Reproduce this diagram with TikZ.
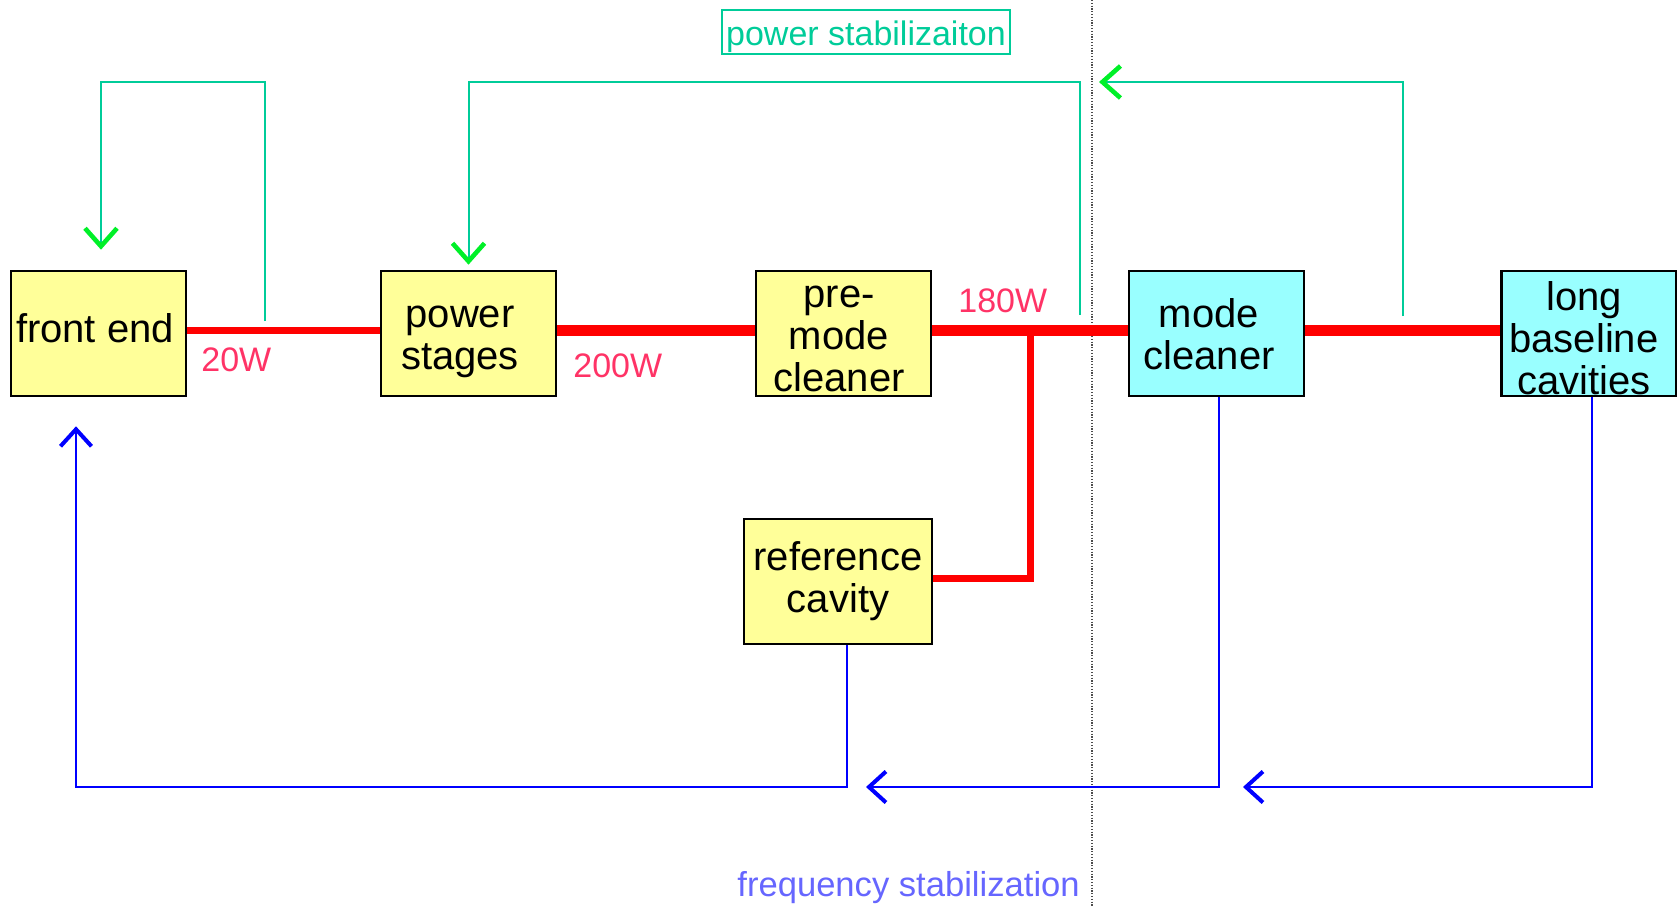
\documentclass[tikz,border=0pt]{standalone}
\usepackage{fontspec}
\setmainfont{Liberation Sans}
\usetikzlibrary{arrows.meta}
\definecolor{boxyellow}{RGB}{255,255,153}
\definecolor{boxcyan}{RGB}{153,255,255}
\definecolor{loopgreen}{RGB}{0,204,153}
\definecolor{tipgreen}{RGB}{0,240,40}
\definecolor{powerred}{RGB}{255,0,0}
\definecolor{labelred}{RGB}{255,51,102}
\definecolor{freqblue}{RGB}{0,0,255}
\definecolor{freqtext}{RGB}{102,102,255}

\begin{document}
\begin{tikzpicture}[x=0.5pt,y=-0.5pt,
  box/.style={draw=black, line width=1.3pt, minimum width=87.5pt, minimum height=62.5pt, inner sep=0pt},
  boxtext/.style={font=\fontsize{20}{21}\selectfont, align=center, inner sep=0pt},
  watt/.style={font=\fontsize{17}{20}\selectfont, text=labelred, inner sep=0pt, anchor=base west},
  beam/.style={draw=powerred, line width=5.5pt},
  thinbeam/.style={draw=powerred, line width=3.5pt},
  pwrloop/.style={draw=loopgreen, line width=1pt, -{Straight Barb[length=9pt,width=16pt,line width=2.3pt,color=tipgreen]}},
  freqloop/.style={draw=freqblue, line width=1.2pt, -{Straight Barb[length=8.5pt,width=15.5pt,line width=2pt]}},
  divider/.style={draw=black!70, line width=0.6pt, dash pattern=on 0.6pt off 0.8pt},
]
\useasboundingbox (0,0) rectangle (1677,906);

% boxes of the laser chain
\node[box, fill=boxyellow] (fe) at (98.5,333.5) {};
\node[box, fill=boxyellow] (ps) at (468.5,333.5) {};
\node[box, fill=boxyellow] (pmc) at (843.5,333.5) {};
\node[box, fill=boxcyan] (mc) at (1216.5,333.5) {};
\node[box, fill=boxcyan] (lb) at (1589,333.5) {};
\node[box, fill=boxyellow, minimum width=94pt] (rc) at (838,581.5) {};

% box captions
\node[boxtext] (fe-t) at (95,328) {front end};
\node[boxtext] (ps-t) at (460,341.5) {power\\stages};
\node[boxtext] (pmc-t) at (839,339) {pre-\\mode\\cleaner};
\node[boxtext] (mc-t) at (1209,334) {mode\\cleaner};
\node[boxtext] (lb-t) at (1584,338) {long\\baseline\\cavities};
\node[boxtext] (rc-t) at (838,581) {reference\\cavity};

% dividing line
\coordinate (div-top) at (1092,0);
\coordinate (div-bot) at (1092,906);
\draw[divider] (div-top) -- (div-bot);

% laser beam
\draw[thinbeam] ([yshift=1.75pt]fe.east) -- ([yshift=1.75pt]ps.west);
\draw[beam] ([yshift=1.75pt]ps.east) -- ([yshift=1.75pt]pmc.west);
\draw[beam] ([yshift=1.75pt]pmc.east) -- ([yshift=1.75pt]mc.west);
\draw[beam] ([yshift=1.75pt]mc.east) -- ([yshift=1.75pt]lb.west);
\coordinate (split) at (1030,330);
\draw[thinbeam] (split) |- ([yshift=1.75pt]rc.east);

% power labels
\node[watt] (w20) at (201,371) {20W};
\node[watt] (w200) at (573,377) {200W};
\node[watt] (w180) at (958,312) {180W};

% power stabilization loops
\coordinate (ptop) at (0,82);
\coordinate (tap1) at (265,321);
\coordinate (tap2) at (1080,315);
\coordinate (tap3) at (1403,316);
\coordinate (fe-in) at ([xshift=1.25pt,yshift=10pt]fe.north);
\coordinate (ps-in) at ([yshift=2.5pt]ps.north);
\coordinate (mc-in) at (1099,82);
\draw[pwrloop] (tap1) |- (ptop -| fe-in) -- (fe-in);
\draw[pwrloop] (tap2) |- (ptop -| ps-in) -- (ps-in);
\draw[pwrloop] (tap3) |- (mc-in);

\node[draw=loopgreen, line width=0.6pt, minimum width=144pt, minimum height=22pt,
      inner sep=0pt, text=loopgreen, font=\fontsize{17}{20}\selectfont,
      text height=15pt, text depth=2pt] (ptitle) at (866,32) {power stabilizaiton};

% frequency stabilization loops
\coordinate (rail) at (0,787);
\coordinate (fe-fb) at ([xshift=-11.25pt,yshift=-14.5pt]fe.south);
\coordinate (mc-fb) at (866,787);
\coordinate (lb-fb) at (1243,787);
\draw[freqloop] ([xshift=4.5pt]rc.south) |- (rail -| fe-fb) -- (fe-fb);
\draw[freqloop] ([xshift=1.25pt]mc.south) |- (mc-fb);
\draw[freqloop] ([xshift=1.5pt]lb.south) |- (lb-fb);

\node[font=\fontsize{17.3}{20}\selectfont, text=freqtext, anchor=base west, inner sep=0pt]
  (ftitle) at (737,896) {frequency stabilization};
\end{tikzpicture}
\end{document}
